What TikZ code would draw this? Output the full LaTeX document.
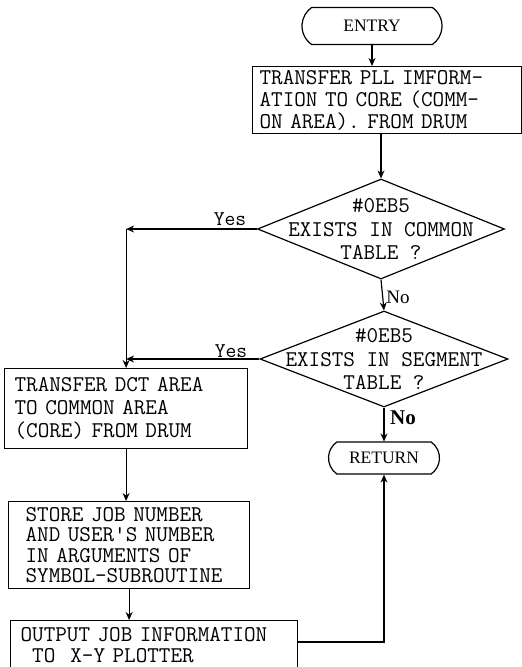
\documentclass[tikz,border=0pt]{standalone}
\usepackage{fontspec}
\setmainfont{Liberation Serif}
\usetikzlibrary{shapes.geometric,shapes.misc,arrows.meta}
\begin{document}
\begin{tikzpicture}[x=1pt,y=-1pt, line width=1.2pt,
  arr/.style={-{Stealth[length=8pt,width=7pt]}},
  proc/.style={draw, rectangle, inner sep=0pt, anchor=north west, align=left,
    font=\ttfamily\fontsize{22.5}{22}\selectfont},
  term/.style={draw, rounded rectangle, rounded rectangle arc length=110, inner sep=0pt,
    font=\fontsize{17.5}{20}\selectfont},
  dec/.style={draw, diamond, inner sep=0pt},
  dtext/.style={align=center, font=\ttfamily\fontsize{22.5}{23.5}\selectfont},
  lab/.style={font=\ttfamily\fontsize{21}{20}\selectfont}]
\useasboundingbox (0,0) rectangle (522,667);

\node[term, minimum width=140pt, minimum height=37pt] (en) at (372,26) {ENTRY};

\node[proc, minimum width=269pt, minimum height=67pt, text width=255pt] (b1) at (252,66)
  {TRANSFER PLL IMFORM-\\ATION TO CORE (COMM-\\ON AREA). FROM DRUM};

\node[dec, minimum width=247pt, minimum height=100pt] (d1) at (381,229) {};
\node[dtext] (d1t) at (d1.center) {\#0EB5\\EXISTS IN COMMON\\TABLE ?};

\node[dec, minimum width=248pt, minimum height=96pt] (d2) at (384,359) {};
\node[dtext] (d2t) at (d2.center) {\#0EB5\\EXISTS IN SEGMENT\\TABLE ?};

\node[proc, minimum width=243pt, minimum height=80pt, text width=223pt,
  font=\ttfamily\fontsize{22.5}{23}\selectfont] (b2) at (4,368)
  {TRANSFER DCT AREA\\TO COMMON AREA\\(CORE) FROM DRUM};

\node[proc, minimum width=241pt, minimum height=87pt, text width=207pt,
  font=\ttfamily\fontsize{22.5}{20.5}\selectfont] (b3) at (8,501)
  {STORE JOB NUMBER\\AND USER'S NUMBER\\IN ARGUMENTS OF\\SYMBOL-SUBROUTINE};

\node[proc, minimum width=287pt, minimum height=49pt, text width=267pt,
  font=\ttfamily\fontsize{22.5}{20.5}\selectfont] (b4) at (10,620)
  {OUTPUT JOB INFORMATION\\\phantom{O}TO\ \ X-Y PLOTTER};

\node[term, minimum width=111pt, minimum height=32pt] (r) at (384,458) {RETURN};

\node[lab] (y1) at (230,219) {Yes};
\node[lab] (y2) at (231,351) {Yes};
\node[font=\fontsize{19}{20}\selectfont] (n1) at (398,297) {No};
\node[font=\bfseries\fontsize{21}{22}\selectfont] (n2) at (403,418) {No};

\draw[arr] (en.south) -- (en.south |- b1.north);
\draw[arr] (d1.north |- b1.south) -- (d1.north);
\draw[arr] (d1.south) -- (d2.north);
\draw[arr] (d1.west) -- (d1.west -| b2.north);
\draw[arr] (d1.west -| b2.north) -- (b2.north);
\draw[arr] (d2.west) -- (d2.west -| b2.north);
\draw[arr] (d2.south) -- (r.north);
\draw[arr] (b2.south) -- (b2.south |- b3.north);
\draw[arr] (b3.south) -- (b3.south |- b4.north);
\draw[arr] ([yshift=-22pt]b4.north east) -| (r.south);
\end{tikzpicture}
\end{document}
